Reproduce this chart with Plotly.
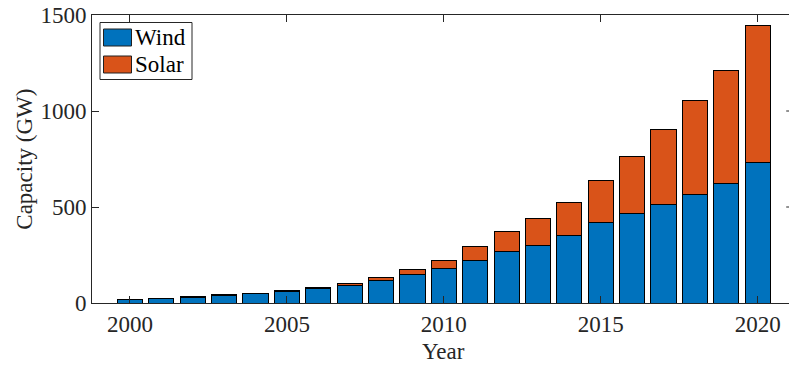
import plotly.graph_objects as go

# Installed capacity by year (GW)
years = list(range(2000, 2021))
wind = [17, 24, 31, 39, 48, 59, 74, 91, 115, 150, 180, 220, 267, 300, 350,
        417, 467, 515, 565, 622, 733]
solar = [1, 1, 2, 3, 4, 5, 7, 9, 16, 24, 42, 73, 104, 138, 176,
         222, 296, 390, 488, 587, 714]
x_ticks = [2000, 2005, 2010, 2015, 2020]
y_ticks = [0, 500, 1000, 1500]

WIND_C = "#0072BD"
SOLAR_C = "#D95319"
AX_C = "#262626"
FONT = "Liberation Serif, Times New Roman, serif"
FS = 23

fig = go.Figure()
fig.add_trace(go.Bar(x=years, y=wind, name="Wind", width=0.8,
                     marker=dict(color=WIND_C, line=dict(color="black", width=1))))
fig.add_trace(go.Bar(x=years, y=solar, name="Solar", width=0.8,
                     marker=dict(color=SOLAR_C, line=dict(color="black", width=1))))

fig.update_layout(
    width=789, height=365,
    margin=dict(l=92, r=0, t=15, b=62),
    barmode="stack",
    showlegend=False,
    plot_bgcolor="white", paper_bgcolor="white",
    font=dict(family=FONT, size=FS, color=AX_C),
)
fig.update_xaxes(
    range=[1998.79, 2020.997], tickvals=x_ticks, ticktext=[str(v) for v in x_ticks],
    ticks="inside", ticklen=7, tickcolor=AX_C, tickwidth=1,
    showline=True, linecolor=AX_C, linewidth=1, mirror="ticks",
    showgrid=False, zeroline=False, tickfont=dict(family=FONT, size=FS, color=AX_C),
)
fig.update_yaxes(
    range=[0, 1500], tickvals=y_ticks, ticktext=[str(v) for v in y_ticks],
    ticks="inside", ticklen=7, tickcolor=AX_C, tickwidth=1,
    showline=True, linecolor=AX_C, linewidth=1, mirror=False,
    showgrid=False, zeroline=False, tickfont=dict(family=FONT, size=FS, color=AX_C),
)

# Right-hand tick stubs (box axis)
for v in y_ticks[1:-1]:
    fig.add_shape(type="line", xref="paper", yref="y", x0=0.996, x1=1.0, y0=v, y1=v,
                  line=dict(color=AX_C, width=1))

# Axis titles
fig.add_annotation(text="Year", xref="paper", yref="paper", x=0.504, y=-0.121,
                   xanchor="center", yanchor="top", showarrow=False, borderpad=0,
                   font=dict(family=FONT, size=FS, color=AX_C))
fig.add_annotation(text="Capacity (GW)", xref="paper", yref="paper", x=-0.098, y=0.5,
                   xanchor="center", yanchor="middle", textangle=-90, showarrow=False,
                   font=dict(family=FONT, size=FS, color=AX_C))

# Legend box
pw, ph = 697.0, 288.0
def px(xp):
    return (xp - 92) / pw
def py(yp):
    return 1 - (yp - 15) / ph

fig.add_shape(type="rect", xref="paper", yref="paper",
              x0=px(100), x1=px(192), y0=py(22.5), y1=py(79.5),
              line=dict(color=AX_C, width=1), fillcolor="white")
for name, col, yc in [("Wind", WIND_C, 37.5), ("Solar", SOLAR_C, 64.5)]:
    fig.add_shape(type="rect", xref="paper", yref="paper",
                  x0=px(103.5), x1=px(131.5), y0=py(yc - 8.5), y1=py(yc + 8.5),
                  line=dict(color="#202020", width=1), fillcolor=col)
    fig.add_annotation(text=name, xref="paper", yref="paper", x=px(133), y=py(yc),
                       xanchor="left", yanchor="middle", showarrow=False,
                       font=dict(family=FONT, size=FS, color="black"))

fig.write_html("out.html")
